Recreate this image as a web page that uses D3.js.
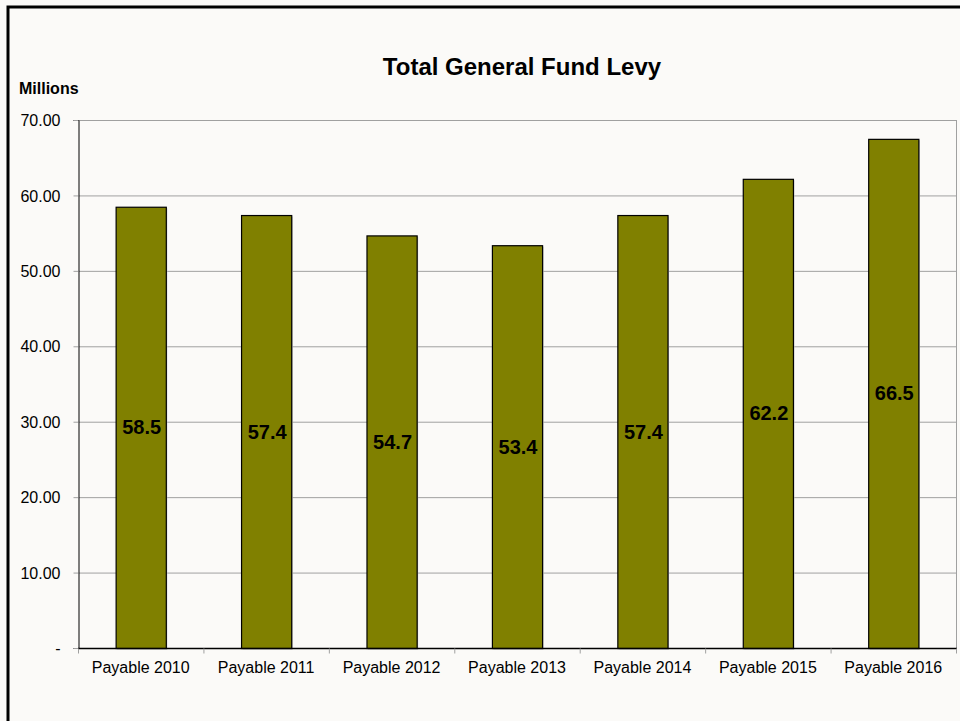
<!DOCTYPE html>
<html><head><meta charset="utf-8">
<script src="https://cdn.jsdelivr.net/npm/d3@7"></script>
<style>html,body{margin:0;padding:0;background:#fbfaf8;}svg{display:block;font-family:Arial,"Liberation Sans",sans-serif;}</style>
</head><body>
<script>
const categories = ["Payable 2010","Payable 2011","Payable 2012","Payable 2013","Payable 2014","Payable 2015","Payable 2016"];
const values = [58.5, 57.4, 54.7, 53.4, 57.4, 62.2, 67.5];
const valueLabels = ["58.5","57.4","54.7","53.4","57.4","62.2","66.5"];
const yTicks = [0,10,20,30,40,50,60,70];
const yTickLabels = ["-","10.00","20.00","30.00","40.00","50.00","60.00","70.00"];

const W = 960, H = 721;
const m = {left:78, right:956, top:120, bottom:648};
const svg = d3.select("body").append("svg").attr("width",W).attr("height",H);
svg.append("rect").attr("x",0).attr("y",0).attr("width",W).attr("height",H).attr("fill","#fbfaf8");
// outer frame
svg.append("rect").attr("x",8).attr("y",7).attr("width",W+10).attr("height",H+10)
  .attr("fill","none").attr("stroke","#000").attr("stroke-width",3);

const x = d3.scaleBand().domain(categories).range([m.left,m.right]).paddingInner(0.6).paddingOuter(0.3);
const xb = d3.scaleBand().domain(categories).range([m.left,m.right]);
const y = d3.scaleLinear().domain([0,70]).range([m.bottom,m.top]);

// gridlines
svg.append("g").selectAll("line").data(yTicks.filter(d=>d>0)).join("line")
  .attr("x1",m.left).attr("x2",m.right).attr("y1",d=>y(d)+0.5).attr("y2",d=>y(d)+0.5)
  .attr("stroke","#a0a0a0").attr("stroke-width",1);
// right border of plot
svg.append("line").attr("x1",m.right+0.5).attr("x2",m.right+0.5).attr("y1",m.top).attr("y2",m.bottom)
  .attr("stroke","#a0a0a0").attr("stroke-width",1);

// bars with shadow
svg.append("g").selectAll("rect").data(values).join("rect")
  .attr("x",(d,i)=>x(categories[i])+1.5).attr("y",d=>y(d)+1.5)
  .attr("width",x.bandwidth()).attr("height",d=>m.bottom-y(d))
  .attr("fill","#c8c8c8");
svg.append("g").selectAll("rect").data(values).join("rect")
  .attr("x",(d,i)=>x(categories[i])+0.5).attr("y",d=>y(d)+0.5)
  .attr("width",x.bandwidth()).attr("height",d=>m.bottom-y(d))
  .attr("fill","#808000").attr("stroke","#000").attr("stroke-width",1.2);

// value labels
svg.append("g").selectAll("text").data(values).join("text")
  .attr("x",(d,i)=>x(categories[i])+x.bandwidth()/2+1)
  .attr("y",d=>(y(d)+m.bottom)/2+7)
  .attr("text-anchor","middle").attr("font-size","20px").attr("font-weight","bold").attr("fill","#000")
  .text((d,i)=>valueLabels[i]);

// y axis
const yAxis = d3.axisLeft(y).tickValues(yTicks).tickSize(5).tickPadding(13)
  .tickFormat((d,i)=>yTickLabels[i]);
const gy = svg.append("g").attr("transform",`translate(${m.left+0.5},0)`).call(yAxis);
gy.select(".domain").attr("stroke","#000").attr("stroke-width",1);
gy.selectAll(".tick line").attr("stroke","#a0a0a0");
gy.selectAll("text").attr("font-size","16px").attr("fill","#000").attr("dy","0.35em")
  .attr("font-family","Arial,'Liberation Sans',sans-serif");

// x axis
const gx = svg.append("g").attr("transform",`translate(0,${m.bottom+0.5})`);
gx.append("line").attr("x1",m.left).attr("x2",m.right+1).attr("y1",0).attr("y2",0).attr("stroke","#000").attr("stroke-width",1.5);
gx.selectAll("line.tk").data(categories.concat(["_end"])).join("line").attr("class","tk")
  .attr("x1",(d,i)=>m.left+i*xb.bandwidth()+0.5).attr("x2",(d,i)=>m.left+i*xb.bandwidth()+0.5)
  .attr("y1",0).attr("y2",5).attr("stroke","#a0a0a0");
gx.selectAll("text").data(categories).join("text")
  .attr("x",d=>x(d)+x.bandwidth()/2).attr("y",24.5)
  .attr("text-anchor","middle").attr("font-size","16px").attr("fill","#000").text(d=>d);

// title
svg.append("text").attr("x",(m.left+m.right)/2+5).attr("y",75).attr("text-anchor","middle")
  .attr("font-size","24px").attr("font-weight","bold").attr("fill","#000").text("Total General Fund Levy");
svg.append("text").attr("x",19).attr("y",94).attr("font-size","16px").attr("font-weight","bold").attr("fill","#000").text("Millions");
</script>
</body></html>
